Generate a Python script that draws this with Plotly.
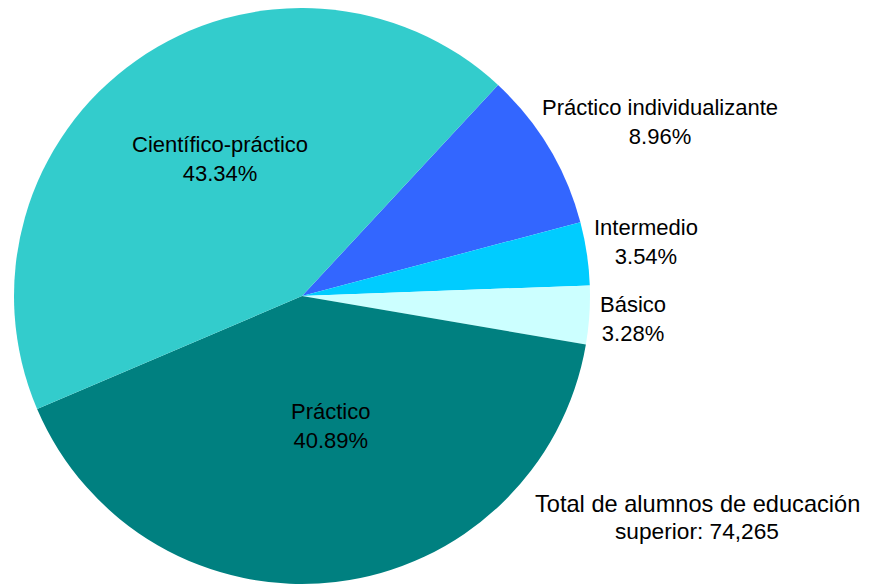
import plotly.graph_objects as go

labels = ["Práctico individualizante", "Intermedio", "Básico", "Práctico", "Científico-práctico"]
percents = [8.96, 3.54, 3.28, 40.89, 43.34]
colors = ["#3366FF", "#00CCFF", "#CCFFFF", "#008080", "#33CCCC"]
total_label = ["Total de alumnos de educación", "superior: 74,265"]

W, H = 869, 584
FONT = "Liberation Sans, Arial, sans-serif"

# label block centres (pixels from top-left of the figure), layout only
label_pos = [(651.5, 114), (637.5, 234), (625, 310.5), (322, 418), (212, 151)]

fig = go.Figure(go.Pie(
    labels=labels,
    values=percents,
    sort=False,
    direction="clockwise",
    rotation=42.9,
    marker=dict(colors=colors, line=dict(width=0)),
    textinfo="none",
    domain=dict(x=[6 / W, 582 / W], y=[1 - 576 / H, 1]),
    showlegend=False,
    hoverinfo="label+percent",
))

for lab, val, (px, py) in zip(labels, percents, label_pos):
    fig.add_annotation(text=f"{lab}<br>{val:.2f}%", x=px / W, y=1 - py / H,
                       xref="paper", yref="paper", showarrow=False,
                       xanchor="center", yanchor="middle", align="center",
                       font=dict(family=FONT, size=22, color="black"))

fig.add_annotation(text=total_label[0], x=689 / W, y=1 - 496 / H, xref="paper", yref="paper",
                   showarrow=False, xanchor="center", yanchor="middle",
                   font=dict(family=FONT, size=23.6, color="black"))
fig.add_annotation(text=total_label[1], x=689 / W, y=1 - 523 / H, xref="paper", yref="paper",
                   showarrow=False, xanchor="center", yanchor="middle",
                   font=dict(family=FONT, size=22.7, color="black"))

fig.update_layout(
    width=W, height=H,
    margin=dict(l=0, r=0, t=0, b=0),
    paper_bgcolor="white", plot_bgcolor="white",
)
fig.write_html("out.html")
